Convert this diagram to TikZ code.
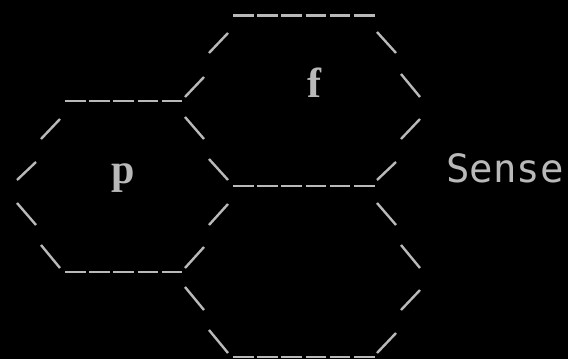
\documentclass[tikz,border=0pt]{standalone}
\usepackage{fontspec}
\newfontfamily\labelfont{Liberation Serif}
\newfontfamily\monofont{DejaVu Sans Mono}
\definecolor{ink}{RGB}{185,185,185}
\tikzset{
  seg/.style={draw=ink, line width=2.4pt},
  lbl/.style={text=ink, inner sep=0pt, anchor=base},
}
\begin{document}
\begin{tikzpicture}[x=1pt,y=-1pt]
\fill[black] (0,0) rectangle (568,359);
\useasboundingbox (0,0) rectangle (568,359);
% horizontal runs (6 dashes)
\foreach \yy in {15.5,186,357}{
  \foreach \i in {0,...,5}{
    \draw[seg] ({233+24.2*\i},\yy) -- ({253.5+24.2*\i},\yy);
  }
}
% horizontal runs (5 dashes)
\foreach \yy in {101,272}{
  \foreach \i in {0,...,4}{
    \draw[seg] ({65+24.2*\i},\yy) -- ({85.5+24.2*\i},\yy);
  }
}
% slashes
\foreach \a/\b/\c/\d in {
  228/33/209/53, 204/77/185/97,
  377/32/396/53, 401/74/420/97,
  420/119/401/139, 396/162/377/180,
  185/117/204/139, 209/159/228/180,
  60/119/41/139, 36/162/17/180,
  17/203/36/225, 41/245/60/268,
  228/204/209/225, 204/247/185/268,
  185/287/204/310, 209/330/228/353,
  377/203/396/225, 401/245/420/268,
  420/290/401/310, 396/333/377/353}{
  \draw[seg] (\a,\b) -- (\c,\d);
}
\node[lbl, font=\labelfont\bfseries\fontsize{42}{42}\selectfont] (p) at (123,183) {p};
\node[lbl, font=\labelfont\bfseries\fontsize{42}{42}\selectfont] (f) at (314,97) {f};
\node[lbl, anchor=base west, font=\monofont\fontsize{39}{39}\selectfont] (sense) at (446,182) {Sense};
\end{tikzpicture}
\end{document}
